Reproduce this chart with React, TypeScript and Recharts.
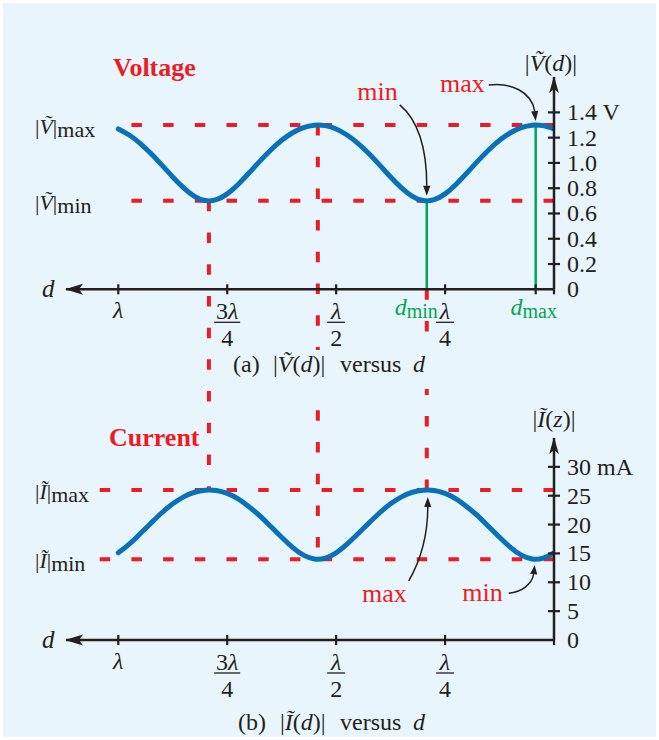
import React from 'react';
import { ComposedChart, Line, XAxis, YAxis, ReferenceLine, ReferenceDot } from 'recharts';

// ---------- data ----------
const dPos = [
  0, 0.025, 0.05, 0.075, 0.1, 0.125, 0.15, 0.175, 0.2, 0.225,
  0.25, 0.275, 0.3, 0.325, 0.35, 0.375, 0.4, 0.425, 0.45, 0.475,
  0.5, 0.525, 0.55, 0.575, 0.6, 0.625, 0.65, 0.675, 0.7, 0.725,
  0.75, 0.775, 0.8, 0.825, 0.85, 0.875, 0.9, 0.925, 0.95, 0.975, 1.0,
];
const vMag = [
  1.269, 1.295, 1.299, 1.28, 1.239, 1.179, 1.102, 1.014, 0.92, 0.83,
  0.755, 0.709, 0.702, 0.736, 0.803, 0.889, 0.983, 1.074, 1.155, 1.221,
  1.269, 1.295, 1.299, 1.28, 1.239, 1.179, 1.102, 1.014, 0.92, 0.83,
  0.755, 0.709, 0.702, 0.736, 0.803, 0.889, 0.983, 1.074, 1.155, 1.221, 1.269,
];
const iMag = [
  15.1, 14.2, 14.05, 14.7, 16.05, 17.8, 19.65, 21.5, 23.1, 24.45,
  25.4, 25.9, 25.95, 25.6, 24.8, 23.6, 22.05, 20.25, 18.4, 16.6,
  15.1, 14.2, 14.05, 14.7, 16.05, 17.8, 19.65, 21.5, 23.1, 24.45,
  25.4, 25.9, 25.95, 25.6, 24.8, 23.6, 22.05, 20.25, 18.4, 16.6, 15.1,
];

const V_MAX = 1.3;
const V_MIN = 0.7;
const I_MAX = 26;
const I_MIN = 14;
const D_MAX = 0.042;
const D_MIN = 0.292;
const D_MAX2 = 0.542;
const D_MIN2 = 0.792;

const xTicksTop = [0, D_MAX, 0.25, D_MIN, 0.5, 0.75, 1];
const xLabelsTop = ['', 'd|max', 'λ/4', 'd|min', 'λ/2', '3λ/4', 'λ'];
const xTicksBottom = [0, 0.25, 0.5, 0.75, 1];
const xLabelsBottom = ['', 'λ/4', 'λ/2', '3λ/4', 'λ'];
const vTicks = [0, 0.2, 0.4, 0.6, 0.8, 1.0, 1.2, 1.4];
const vTickLabels = ['0', '0.2', '0.4', '0.6', '0.8', '1.0', '1.2', '1.4 V'];
const iTicks = [0, 5, 10, 15, 20, 25, 30];
const iTickLabels = ['0', '5', '10', '15', '20', '25', '30 mA'];
const vLevels = [V_MIN, V_MAX];
const iLevels = [I_MIN, I_MAX];
const levelNames = ['min', 'max'];

// cross-chart guides: d, voltage level (top end), current level (bottom end)
const guideD = [D_MIN2, D_MAX2, D_MIN];
const guideV = [V_MIN, V_MAX, 0];
const guideI = [I_MAX, I_MIN, I_MAX];

// ---------- layout / style ----------
const W = 659;
const H = 740;
const X_DOMAIN: [number, number] = [0, 1.12];
const V_DOMAIN: [number, number] = [0, 1.68];
const I_DOMAIN: [number, number] = [0, 35];
const PLOT_LEFT = 66;
const PLOT_RIGHT = 554;
const A_TOP = 77;
const A_BOTTOM = 289.3;
const B_TOP = 438;
const B_BOTTOM = 640;
const AXIS_W = 60;
const XAXIS_H = 30;
const TOP_DASH_START = 0.982;
const BOTTOM_DASH_START = 1.045;

const FONT = '"Liberation Serif", "Times New Roman", serif';
const TEXT = '#231F20';
const RED = '#ED1C24';
const BLUE = '#0871B9';
const GREEN = '#00A651';
const BG = '#E9F5FC';
const FS = 24;
const SUB_FS = 20;
const ANN_FS = 26;
const DASH = '10.5 21.2';

const pixelOfV = (v: number) => A_BOTTOM - ((v - V_DOMAIN[0]) / (V_DOMAIN[1] - V_DOMAIN[0])) * (A_BOTTOM - A_TOP);
const iOfPixel = (p: number) => I_DOMAIN[0] + ((B_BOTTOM - p) / (B_BOTTOM - B_TOP)) * (I_DOMAIN[1] - I_DOMAIN[0]);
const iFromV = (v: number) => iOfPixel(pixelOfV(v));

const dataTable = dPos.map((d, k) => ({ d, v: vMag[k], i: iMag[k] }));

const idxOf = (arr: number[], val: number) => arr.findIndex((t) => Math.abs(t - val) < 1e-6);

const mathText = (s: string) =>
  s.split('').map((ch, k) =>
    /[λdVIz]/.test(ch) ? (
      <tspan key={k} fontStyle="italic">{ch}</tspan>
    ) : (
      <tspan key={k}>{ch}</tspan>
    )
  );

function renderXLabel(label: string, x: number, y: number) {
  if (!label) return null;
  if (label.startsWith('d|')) {
    const sub = label.slice(2);
    const isMin = sub === 'min';
    return (
      <text x={isMin ? x + 11 : x - 2} y={y + 26} textAnchor={isMin ? 'end' : 'middle'} fill={GREEN} fontSize={FS} fontFamily={FONT}>
        <tspan fontStyle="italic">d</tspan>
        <tspan dy={3} fontSize={SUB_FS}>{sub}</tspan>
      </text>
    );
  }
  const parts = label.split('/');
  if (parts.length === 2) {
    const hw = parts[0].length > 1 ? 13 : 9;
    return (
      <g>
        <text x={x} y={y + 30} textAnchor="middle" fill={TEXT} fontSize={FS} fontFamily={FONT}>{mathText(parts[0])}</text>
        <line x1={x - hw} x2={x + hw} y1={y + 33} y2={y + 33} stroke={TEXT} strokeWidth={1.3} />
        <text x={x} y={y + 57} textAnchor="middle" fill={TEXT} fontSize={FS} fontFamily={FONT}>{parts[1]}</text>
      </g>
    );
  }
  return (
    <text x={x} y={y + 29} textAnchor="middle" fill={TEXT} fontSize={FS} fontFamily={FONT}>{mathText(label)}</text>
  );
}

const makeXTick = (ticks: number[], labels: string[]) => (props: any) => {
  const { x, y, payload } = props;
  const k = idxOf(ticks, payload.value);
  const label = k >= 0 ? labels[k] : '';
  const isZero = Math.abs(payload.value) < 1e-9;
  return (
    <g>
      {label !== 'd|min' && (
        <line x1={x} x2={x} y1={isZero ? y : y - 5} y2={y + 5} stroke={TEXT} strokeWidth={2.2} />
      )}
      {renderXLabel(label, x, y)}
    </g>
  );
};

const makeYTick = (ticks: number[], labels: string[]) => (props: any) => {
  const { x, y, payload } = props;
  const k = idxOf(ticks, payload.value);
  const label = k >= 0 ? labels[k] : '';
  const isZero = Math.abs(payload.value) < 1e-9;
  return (
    <g>
      {!isZero && <line x1={x - 6} x2={x + 6} y1={y} y2={y} stroke={TEXT} strokeWidth={2.2} />}
      <text x={x + 13} y={y} dominantBaseline="central" fill={TEXT} fontSize={FS} fontFamily={FONT}>{label}</text>
    </g>
  );
};

const makeLevelTick = (levels: number[], sym: string) => (props: any) => {
  const { x, y, payload } = props;
  const k = idxOf(levels, payload.value);
  const name = k >= 0 ? levelNames[k] : '';
  return (
    <text x={x - 31} y={y + 9} fill={TEXT} fontSize={22} fontFamily={FONT}>
      <tspan>|</tspan>
      <tspan fontStyle="italic">{sym}</tspan>
      <tspan>|</tspan>
      <tspan dy={3}>{name}</tspan>
    </text>
  );
};

const ArrowLeft = (props: any) => {
  const { cx, cy } = props;
  return <path d={`M${cx - 1},${cy} L${cx + 17},${cy - 5.5} L${cx + 13},${cy} L${cx + 17},${cy + 5.5} Z`} fill={TEXT} />;
};
const ArrowUp = (props: any) => {
  const { cx, cy } = props;
  return <path d={`M${cx},${cy - 1} L${cx - 4.8},${cy + 16} L${cx},${cy + 12} L${cx + 4.8},${cy + 16} Z`} fill={TEXT} />;
};

type Ann = { text: string; tx: number; ty: number; p: number[] };
// offsets relative to the annotated extreme point: text end, bezier (start, c1, c2, end), tip
const annTopMin: Ann = { text: 'min', tx: -29, ty: -101, p: [-27, -96, -8, -80, 0, -50, 0, -15, 0, -5] };
const annTopMax: Ann = { text: 'max', tx: -51, ty: -33, p: [-47, -40, -25, -43, -4, -33, -1, -14, 0, -4] };
const annBotMax: Ann = { text: 'max', tx: -20, ty: 112, p: [-18, 91, -6, 70, 1, 45, 1, 17, 1, 7] };
const annBotMin: Ann = { text: 'min', tx: -33, ty: 42, p: [-27, 34, -14, 33, -4, 25, -2, 15, -1, 6] };

const makeAnnotation = (a: Ann) => (props: any) => {
  const { cx, cy } = props;
  const p = a.p;
  const ex = cx + p[6];
  const ey = cy + p[7];
  const tx = cx + p[8];
  const ty = cy + p[9];
  const dx = tx - ex;
  const dy = ty - ey;
  const len = Math.sqrt(dx * dx + dy * dy) || 1;
  const nx = (-dy / len) * 3.6;
  const ny = (dx / len) * 3.6;
  return (
    <g>
      <text x={cx + a.tx} y={cy + a.ty} textAnchor="end" fill={RED} fontSize={ANN_FS} fontFamily={FONT}>{a.text}</text>
      <path
        d={`M${cx + p[0]},${cy + p[1]} C${cx + p[2]},${cy + p[3]} ${cx + p[4]},${cy + p[5]} ${ex},${ey}`}
        stroke={TEXT}
        strokeWidth={1.5}
        fill="none"
      />
      <path d={`M${tx},${ty} L${ex + nx},${ey + ny} L${ex - nx},${ey - ny} Z`} fill={TEXT} />
    </g>
  );
};

const axisLineStyle = { stroke: TEXT, strokeWidth: 2.5 };

type PanelProps = { kind: 'v' | 'i'; under: boolean };

// One panel of the figure. `under` renders only the guide lines (drawn beneath the curves).
function Panel({ kind, under }: PanelProps) {
  const isV = kind === 'v';
  const top = isV ? A_TOP : B_TOP;
  const bottom = isV ? A_BOTTOM : B_BOTTOM;
  const margin = { top, right: W - PLOT_RIGHT - AXIS_W, bottom: H - bottom - XAXIS_H, left: PLOT_LEFT - AXIS_W };
  const yId = isV ? 'v' : 'i';
  const yDomain = isV ? V_DOMAIN : I_DOMAIN;
  const xTicks = isV ? xTicksTop : xTicksBottom;
  const xLabels = isV ? xLabelsTop : xLabelsBottom;
  const yTicks = isV ? vTicks : iTicks;
  const yLabels = isV ? vTickLabels : iTickLabels;
  const levels = isV ? vLevels : iLevels;
  const sym = isV ? 'V\u0303' : 'I\u0303';
  const dashStart = isV ? TOP_DASH_START : BOTTOM_DASH_START;

  return (
    <ComposedChart width={W} height={H} data={dataTable} margin={margin}>
      <XAxis
        dataKey="d"
        type="number"
        domain={X_DOMAIN}
        allowDataOverflow
        reversed
        ticks={xTicks}
        interval={0}
        height={XAXIS_H}
        tickSize={0}
        tickMargin={0}
        tickLine={false}
        axisLine={under ? false : axisLineStyle}
        tick={under ? false : makeXTick(xTicks, xLabels)}
      />
      <YAxis
        yAxisId={yId}
        orientation="right"
        type="number"
        domain={yDomain}
        allowDataOverflow
        ticks={yTicks}
        interval={0}
        width={AXIS_W}
        tickSize={0}
        tickMargin={0}
        tickLine={false}
        axisLine={under ? false : axisLineStyle}
        tick={under ? false : makeYTick(yTicks, yLabels)}
      />
      <YAxis
        yAxisId={yId + 'l'}
        orientation="left"
        type="number"
        domain={yDomain}
        allowDataOverflow
        ticks={levels}
        interval={0}
        width={AXIS_W}
        tickSize={0}
        tickMargin={0}
        tickLine={false}
        axisLine={false}
        tick={under ? false : makeLevelTick(levels, sym)}
      />
      {under &&
        levels.map((lv) => (
          <ReferenceLine
            key={'h' + lv}
            yAxisId={yId}
            segment={[{ x: 0, y: lv }, { x: dashStart, y: lv }]}
            stroke={RED}
            strokeWidth={4}
            strokeDasharray={DASH}
            ifOverflow="visible"
          />
        ))}
      {under &&
        !isV &&
        guideD.map((d, k) => (
          <ReferenceLine
            key={'g' + k}
            yAxisId={yId}
            segment={[{ x: d, y: iFromV(guideV[k]) }, { x: d, y: guideI[k] }]}
            stroke={RED}
            strokeWidth={4}
            strokeDasharray={DASH}
            ifOverflow="visible"
          />
        ))}
      {under && isV && (
        <ReferenceLine yAxisId={yId} segment={[{ x: D_MIN, y: 0 }, { x: D_MIN, y: V_MIN }]} stroke={GREEN} strokeWidth={2.5} ifOverflow="visible" />
      )}
      {under && isV && (
        <ReferenceLine yAxisId={yId} segment={[{ x: D_MAX, y: 0 }, { x: D_MAX, y: V_MAX }]} stroke={GREEN} strokeWidth={2.5} ifOverflow="visible" />
      )}
      {!under && (
        <Line
          yAxisId={yId}
          type="natural"
          dataKey={kind}
          stroke={BLUE}
          strokeWidth={5}
          strokeLinecap="round"
          dot={false}
          activeDot={false}
          isAnimationActive={false}
        />
      )}
      {!under && <ReferenceDot yAxisId={yId} x={X_DOMAIN[1]} y={0} ifOverflow="visible" shape={ArrowLeft} />}
      {!under && <ReferenceDot yAxisId={yId} x={0} y={yDomain[1]} ifOverflow="visible" shape={ArrowUp} />}
      {!under && isV && <ReferenceDot yAxisId={yId} x={D_MIN} y={V_MIN} ifOverflow="visible" shape={makeAnnotation(annTopMin)} />}
      {!under && isV && <ReferenceDot yAxisId={yId} x={D_MAX} y={V_MAX} ifOverflow="visible" shape={makeAnnotation(annTopMax)} />}
      {!under && !isV && <ReferenceDot yAxisId={yId} x={D_MIN} y={I_MAX} ifOverflow="visible" shape={makeAnnotation(annBotMax)} />}
      {!under && !isV && <ReferenceDot yAxisId={yId} x={D_MAX} y={I_MIN} ifOverflow="visible" shape={makeAnnotation(annBotMin)} />}
    </ComposedChart>
  );
}

function Overlay() {
  const t = { fill: TEXT, fontSize: FS, fontFamily: FONT } as const;
  return (
    <svg width={W} height={H} style={{ position: 'absolute', left: 0, top: 0 }}>
      <text x={113} y={76} fill={RED} fontSize={26} fontWeight="bold" fontFamily={FONT}>Voltage</text>
      <text x={109} y={446} fill={RED} fontSize={26} fontWeight="bold" fontFamily={FONT}>Current</text>
      <text x={551} y={71} textAnchor="middle" {...t}>
        <tspan>|</tspan><tspan fontStyle="italic">{'V\u0303'}</tspan><tspan>(</tspan><tspan fontStyle="italic">d</tspan><tspan>)|</tspan>
      </text>
      <text x={554} y={427} textAnchor="middle" {...t}>
        <tspan>|</tspan><tspan fontStyle="italic">{'I\u0303'}</tspan><tspan>(</tspan><tspan fontStyle="italic">z</tspan><tspan>)|</tspan>
      </text>
      <rect x={226} y={350} width={208} height={39} fill={BG} />
      <text y={372} {...t}>
        <tspan x={233}>(a)</tspan>
        <tspan x={273}>|</tspan><tspan fontStyle="italic">{'V\u0303'}</tspan><tspan>(</tspan><tspan fontStyle="italic">d</tspan><tspan>)|</tspan>
        <tspan x={340}>versus</tspan>
        <tspan x={413} fontStyle="italic">d</tspan>
      </text>
      <text y={730} {...t}>
        <tspan x={238}>(b)</tspan>
        <tspan x={280}>|</tspan><tspan fontStyle="italic">{'I\u0303'}</tspan><tspan>(</tspan><tspan fontStyle="italic">d</tspan><tspan>)|</tspan>
        <tspan x={340}>versus</tspan>
        <tspan x={413} fontStyle="italic">d</tspan>
      </text>
      <text x={42} y={297} fontStyle="italic" fill={TEXT} fontFamily={FONT} fontSize={25}>d</text>
      <text x={42} y={648} fontStyle="italic" fill={TEXT} fontFamily={FONT} fontSize={25}>d</text>
    </svg>
  );
}

const layer = { position: 'absolute' as const, left: 0, top: 0 };

export default function App() {
  return (
    <div style={{ position: 'absolute', left: 0, top: 0, width: W, height: H, background: '#FFFFFF', overflow: 'hidden' }}>
      <div style={{ position: 'absolute', left: 3, top: 3, width: W - 6, height: H - 6, background: BG }} />
      <div style={layer}>
        <Panel kind="v" under />
      </div>
      <div style={layer}>
        <Panel kind="i" under />
      </div>
      <div style={layer}>
        <Panel kind="v" under={false} />
      </div>
      <div style={layer}>
        <Panel kind="i" under={false} />
      </div>
      <Overlay />
    </div>
  );
}
